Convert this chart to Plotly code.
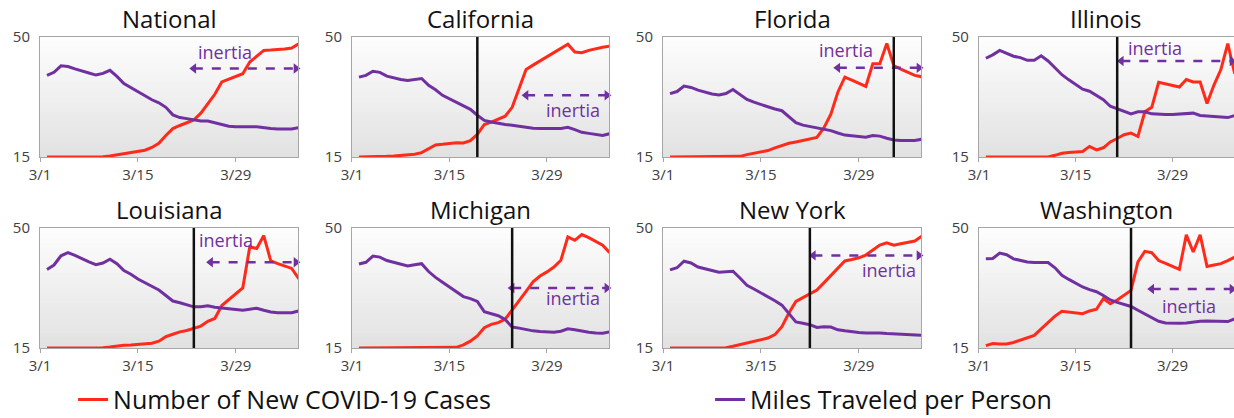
import plotly.graph_objects as go
from plotly.subplots import make_subplots

# day 0 = 3/1, data runs 3/2 .. 4/7
days = list(range(1, 38))
tick_days = [0, 14, 28]
tick_labels = ['3/1', '3/15', '3/29']

states = ['National', 'California', 'Florida', 'Illinois',
          'Louisiana', 'Michigan', 'New York', 'Washington']

national_cases = [15, 15, 15, 15, 15, 15, 15, 15.1, 15.1, 15.3, 15.6, 16.0, 16.4, 16.7, 17.0, 17.8, 19.0, 21.3, 23.3,
                  24.2, 25.0, 25.8, 27.8, 30.5, 33.3, 36.9, 37.7, 38.5, 39.3, 42.7, 44.5, 46.1, 46.2, 46.3, 46.5, 46.8, 48.0]
national_miles = [38.8, 39.7, 41.6, 41.4, 40.7, 40.0, 39.5, 38.9, 39.4, 40.3, 38.5, 36.4, 35.2, 34.0, 33.0, 31.7, 30.8,
                  29.5, 27.3, 26.5, 26.2, 25.8, 25.5, 25.5, 25.0, 24.4, 24.0, 23.8, 23.7, 23.8, 23.8, 23.5, 23.3, 23.2,
                  23.2, 23.2, 23.6]

california_cases = [15, 15, 15, 15.1, 15.2, 15.3, 15.4, 15.5, 15.8, 16.3, 17.3, 18.5, 18.7, 18.9, 19.2, 19.1, 19.8, 21.6,
                    24.5, 25.2, 26.0, 26.9, 29.5, 35.0, 40.5, 41.8, 43.0, 44.3, 45.5, 46.5, 47.9, 45.6, 45.4, 46.1,
                    46.6, 47.0, 47.3]
california_miles = [38.3, 38.8, 40.0, 39.7, 38.6, 38.0, 37.6, 37.3, 37.6, 37.9, 35.9, 34.6, 33.0, 32.0, 31.0, 29.9, 28.9,
                    27.2, 25.7, 25.2, 24.8, 24.5, 24.3, 24.0, 23.5, 23.4, 23.3, 23.2, 23.3, 23.3, 23.7, 23.0, 22.2,
                    21.9, 21.6, 21.3, 21.8]

florida_cases = [15, 15, 15, 15, 15, 15, 15, 15, 15, 15.1, 15.2, 15.7, 16.1, 16.5, 16.9, 17.7, 18.4, 19.0, 19.4, 19.9,
                 20.3, 20.7, 23.5, 27.5, 33.9, 38.3, 37.4, 36.4, 35.6, 42.2, 42.2, 48.1, 41.7, 40.6, 39.6, 38.8, 38.4]
florida_miles = [33.5, 34.1, 35.7, 35.3, 34.5, 33.9, 33.4, 33.1, 33.5, 34.7, 33.2, 31.8, 31.0, 30.3, 29.6, 29.0, 28.5,
                 26.7, 25.0, 24.3, 23.9, 23.3, 23.0, 22.7, 22.0, 21.4, 21.2, 21.0, 20.8, 21.3, 21.1, 20.5, 20.0, 19.8,
                 19.7, 19.8, 20.2]

illinois_cases = [15, 15, 15, 15, 15, 15, 15, 15, 15, 15, 15.5, 16.1, 16.3, 16.4, 16.6, 18.1, 17.1, 17.7, 19.4, 20.4,
                  21.5, 22.0, 21.0, 28.2, 29.5, 36.8, 36.4, 36.0, 35.4, 37.6, 36.9, 36.9, 30.6, 36.0, 40.5, 48.1, 39.3]
illinois_miles = [43.8, 44.8, 46.1, 45.3, 44.4, 44.0, 43.2, 43.2, 44.5, 43.0, 41.0, 39.0, 37.5, 36.2, 34.8, 34.2, 33.0,
                  31.7, 29.8, 29.0, 28.3, 27.6, 28.2, 28.2, 27.6, 27.4, 27.4, 27.4, 27.5, 27.6, 27.8, 27.1, 27.0, 26.9,
                  26.7, 26.5, 27.1]

louisiana_cases = [15, 15, 15, 15, 15, 15, 15, 15, 15.1, 15.3, 15.6, 15.8, 15.9, 16.0, 16.1, 16.4, 17.0, 18.3, 19.0,
                   19.7, 20.1, 20.7, 21.4, 22.8, 23.6, 27.4, 29.1, 30.9, 32.5, 44.5, 44.0, 47.8, 40.4, 39.6, 38.9,
                   38.2, 35.2]
louisiana_miles = [37.9, 39.2, 41.9, 42.8, 42.0, 41.0, 40.1, 39.3, 39.8, 40.9, 39.6, 37.6, 36.5, 35.1, 34.1, 32.9, 31.9,
                   30.3, 28.7, 28.2, 27.6, 27.0, 27.0, 27.3, 26.9, 26.7, 26.3, 26.1, 26.0, 26.3, 26.6, 26.0, 25.5, 25.3,
                   25.3, 25.3, 25.8]

michigan_cases = [15, 15, 15, 15, 15, 15, 15, 15, 15, 15, 15, 15, 15.05, 15.1, 15.2, 15.9, 17.0, 18.5, 20.9, 21.9, 22.4,
                  23.4, 26.0, 28.6, 31.5, 34.3, 36.0, 37.2, 38.6, 40.6, 47.4, 46.4, 48.1, 47.2, 46.0, 45.0, 42.8]
michigan_miles = [39.5, 40.0, 41.8, 41.5, 40.5, 39.9, 39.3, 38.9, 39.3, 39.6, 37.3, 35.6, 34.2, 32.8, 31.2, 30.0, 29.4,
                  28.6, 25.6, 24.9, 24.4, 23.3, 21.1, 20.8, 20.3, 20.0, 19.8, 19.7, 19.6, 19.9, 20.6, 20.3, 19.9, 19.6,
                  19.4, 19.3, 19.7]

newyork_cases = [15, 15, 15, 15, 15, 15, 15, 15, 15.1, 15.5, 16.0, 16.4, 16.8, 17.3, 17.9, 18.9, 21.2, 25.2, 28.6, 29.7,
                 30.8, 31.9, 34.0, 36.1, 38.3, 40.4, 40.8, 41.3, 42.1, 43.5, 45.0, 45.7, 45.0, 45.4, 45.7, 46.2, 47.6]
newyork_miles = [37.8, 38.4, 40.3, 39.8, 38.6, 38.0, 37.6, 37.1, 37.2, 37.4, 35.4, 33.3, 32.2, 31.1, 29.8, 28.8, 27.5,
                 24.9, 22.6, 22.2, 21.8, 21.0, 21.2, 21.1, 20.3, 20.0, 19.7, 19.5, 19.4, 19.5, 19.4, 19.2, 19.1, 19.0,
                 18.9, 18.8, 18.7]

washington_cases = [15.7, 16.3, 16.2, 16.2, 16.6, 17.3, 18.0, 18.7, 20.6, 22.6, 24.3, 25.7, 25.4, 25.2, 25.0, 25.8,
                    26.3, 29.4, 27.9, 29.0, 30.3, 31.8, 40.1, 43.2, 42.8, 40.5, 39.7, 38.8, 37.9, 48.0, 43.0, 48.0,
                    38.8, 39.2, 39.6, 40.5, 41.5]
washington_miles = [41.0, 41.1, 42.7, 42.2, 41.0, 40.5, 40.1, 39.9, 39.9, 39.9, 38.4, 36.2, 35.0, 33.9, 32.8, 32.0,
                    31.4, 30.3, 29.0, 28.3, 27.7, 27.1, 26.0, 25.0, 23.9, 22.8, 22.3, 22.2, 22.2, 22.3, 22.6, 22.8,
                    22.9, 22.9, 22.7, 22.7, 23.5]

# stay-at-home order (vertical line) and start of the inertia period, in days after 3/1
intervention_day = [None, 18, 33, 20, 22, 23, 21, 22]
inertia_start = [22, 25, 25, 20.6, 24.4, 23, 21.5, 25]

cases = [national_cases, california_cases, florida_cases, illinois_cases,
         louisiana_cases, michigan_cases, newyork_cases, washington_cases]
miles = [national_miles, california_miles, florida_miles, illinois_miles,
         louisiana_miles, michigan_miles, newyork_miles, washington_miles]

# placement of the "inertia" arrow: arrow level, label x, label y
inertia_place = [(40.8, 26.5, 45.6), (33.0, 31.8, 28.6), (41.0, 26.2, 46.3), (43.0, 25.5, 46.8),
                 (40.0, 26.6, 46.6), (32.5, 31.7, 29.7), (42.0, 32.3, 37.7), (32.2, 30.4, 27.2)]

RED = '#ff2a1a'
PURPLE = '#7030a0'
FONT = 'Open Sans'

col_dom = [(0.0, 0.2161), (0.2613, 0.4765), (0.5218, 0.7379), (0.7864, 1.0)]
row_dom = [(0.614, 1.0), (0.0, 0.3859)]

fig = make_subplots(rows=2, cols=4)

shapes = []
annotations = []
n_bands = 24
for i, name in enumerate(states):
    r, c = i // 4 + 1, i % 4 + 1
    ax = '' if i == 0 else str(i + 1)

    fig.add_trace(go.Scatter(
        x=days, y=cases[i], mode='lines', name='Number of New COVID-19 Cases',
        line=dict(color=RED, width=3), showlegend=(i == 0), legend='legend',
        hoverinfo='skip'), row=r, col=c)
    fig.add_trace(go.Scatter(
        x=days, y=miles[i], mode='lines', name='Miles Traveled per Person',
        line=dict(color=PURPLE, width=3), showlegend=(i == 0), legend='legend2',
        hoverinfo='skip'), row=r, col=c)

    # inertia arrow
    lvl, tx, ty = inertia_place[i]
    fig.add_trace(go.Scatter(
        x=[inertia_start[i], 36.6], y=[lvl, lvl], mode='lines+markers',
        line=dict(color=PURPLE, width=2.5, dash='dash'),
        marker=dict(color=PURPLE, size=9, symbol=['triangle-left', 'triangle-right']),
        showlegend=False, hoverinfo='skip', cliponaxis=False), row=r, col=c)
    annotations.append(dict(
        x=tx, y=ty, xref='x' + ax, yref='y' + ax, text='inertia', showarrow=False,
        font=dict(family=FONT, size=18, color=PURPLE)))

    # panel title
    annotations.append(dict(
        x=0.5, y=1, xref=f'x{ax} domain', yref=f'y{ax} domain', text=name,
        showarrow=False, yanchor='bottom', yshift=0,
        font=dict(family=FONT, size=24, color='#111111')))

    # grey gradient background
    for b in range(n_bands):
        g = round(226 + (253 - 226) * b / (n_bands - 1))
        shapes.append(dict(
            type='rect', xref=f'x{ax} domain', yref=f'y{ax} domain',
            x0=0, x1=1, y0=b / n_bands, y1=(b + 1) / n_bands,
            fillcolor=f'rgb({g},{g},{g})', line=dict(width=0), layer='below'))

    if intervention_day[i] is not None:
        shapes.append(dict(
            type='line', xref='x' + ax, yref=f'y{ax} domain',
            x0=intervention_day[i], x1=intervention_day[i], y0=0, y1=1,
            line=dict(color='#111111', width=2.5)))

    fig.update_xaxes(
        domain=col_dom[c - 1], range=[0, 36.9], tickvals=tick_days, ticktext=tick_labels,
        showline=True, mirror=True, linecolor='#a6a6a6', linewidth=1,
        ticks='outside', ticklen=4, tickcolor='#a6a6a6', showgrid=False, zeroline=False,
        tickfont=dict(family=FONT, size=15, color='#404040'), row=r, col=c)
    fig.update_yaxes(
        domain=row_dom[r - 1], range=[15, 50], tickvals=[15, 50],
        showline=True, mirror=True, linecolor='#a6a6a6', linewidth=1,
        ticks='', ticklabelstandoff=6, showgrid=False, zeroline=False,
        tickfont=dict(family=FONT, size=15, color='#404040'), row=r, col=c)

fig.update_layout(
    width=1234, height=418,
    margin=dict(l=40, r=0, t=37, b=70, autoexpand=False),
    paper_bgcolor='white', plot_bgcolor='white',
    font=dict(family=FONT, color='#111111'),
    shapes=shapes, annotations=annotations,
    legend=dict(x=0.0277, y=-0.24, xanchor='left', yanchor='bottom', orientation='h',
                font=dict(family=FONT, size=25, color='#111111'), bgcolor='rgba(0,0,0,0)'),
    legend2=dict(x=0.5612, y=-0.24, xanchor='left', yanchor='bottom', orientation='h',
                 font=dict(family=FONT, size=25, color='#111111'), bgcolor='rgba(0,0,0,0)'),
)

# the page body has a default 8px margin; drop it so the figure fills the window
fig.write_html("out.html", config={'displayModeBar': False},
               post_script="document.body.style.margin = '0';")
